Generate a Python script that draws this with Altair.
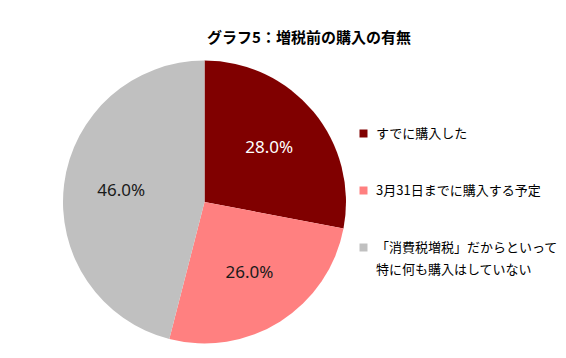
import altair as alt
import pandas as pd

categories = [
    "すでに購入した",
    "3月31日までに購入する予定",
    "「消費税増税」だからといって|特に何も購入はしていない",
]
values = [28.0, 26.0, 46.0]
colors = ["#800000", "#FF8080", "#C0C0C0"]
label_colors = ["#FFFFFF", "#1A1A1A", "#1A1A1A"]

df = pd.DataFrame({
    "category": categories,
    "value": values,
    "order": list(range(len(categories))),
    "label": [f"{v:.1f}%" for v in values],
    "lc": label_colors,
})

CX, CY = 196.5, 144

base = alt.Chart(df).encode(
    theta=alt.Theta("value:Q", stack=True),
    order=alt.Order("order:Q"),
    x=alt.value(CX),
    y=alt.value(CY),
)

pie = base.mark_arc(outerRadius=141.5).encode(
    color=alt.Color(
        "category:N",
        scale=alt.Scale(domain=categories, range=colors),
        legend=alt.Legend(
            title=None,
            orient="none",
            legendX=349,
            legendY=69,
            symbolType="square",
            symbolSize=64,
            symbolStrokeWidth=0,
            symbolOpacity=1,
            labelFont="Noto Sans CJK JP",
            labelFontSize=13,
            labelColor="#000000",
            labelLimit=400,
            labelOffset=6,
            rowPadding=43,
            labelExpr="split(datum.label, '|')",
        ),
    )
)

labels = base.mark_text(radius=84, font="Noto Sans", fontSize=17).encode(
    text="label:N",
    color=alt.Color("lc:N", scale=None, legend=None),
)

chart = (
    alt.layer(pie, labels)
    .properties(
        width=550,
        height=292,
        autosize=alt.AutoSizeParams(type="none"),
        padding={"top": 50, "left": 0, "right": 0, "bottom": 0},
        title=alt.Title(
            "グラフ5：増税前の購入の有無",
            font="Noto Sans CJK JP",
            fontSize=15,
            fontWeight="bold",
            color="#000000",
            anchor="middle",
            dx=26,
            dy=-8,
        ),
    )
    .configure(style={"guide-label": {"lineHeight": 22}})
    .configure_view(stroke=None)
)

chart.save("out.html", embed_options={"renderer": "svg", "actions": False})
